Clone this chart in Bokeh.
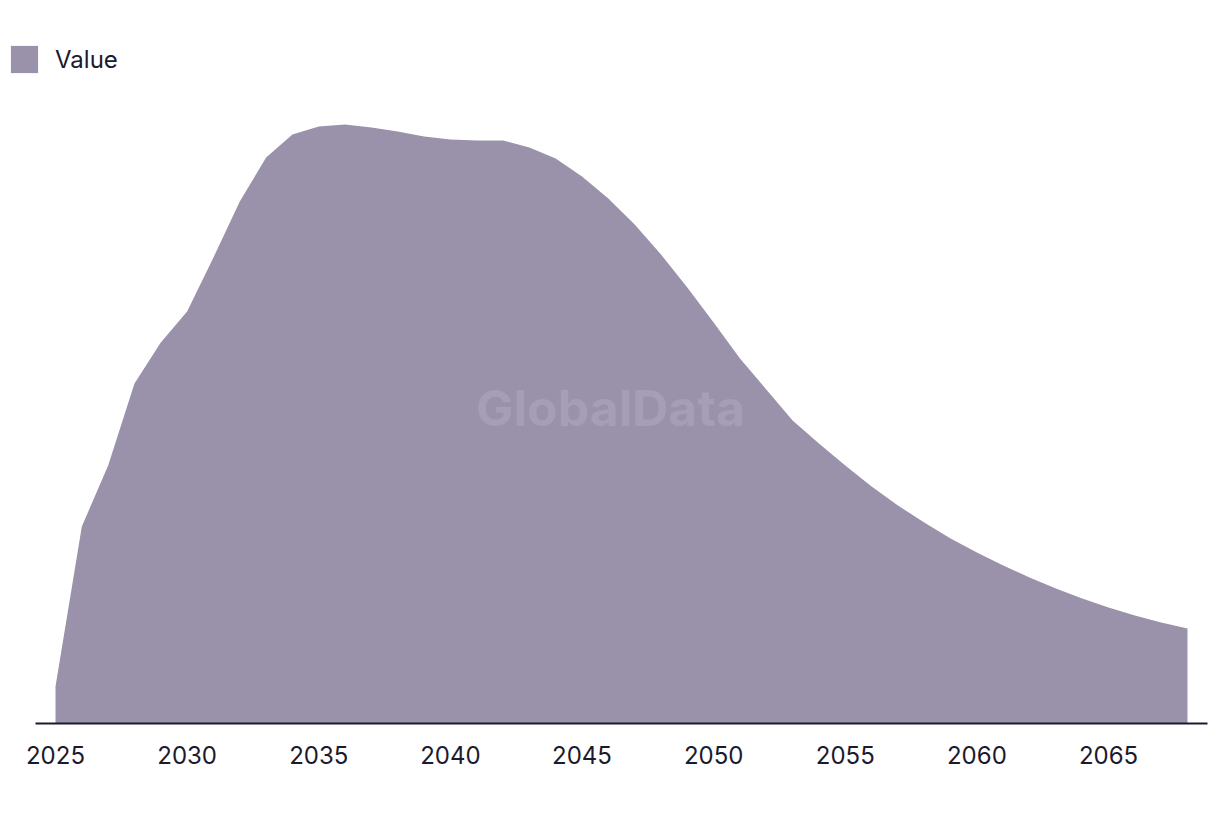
from bokeh.plotting import figure
from bokeh.models import Legend, LegendItem, FixedTicker, Label, Range1d
from bokeh.embed import file_html
from bokeh.resources import INLINE

years = list(range(2025, 2069))
values = [3.7, 19.7, 25.8, 34.0, 38.1, 41.2, 46.6, 52.2, 56.6, 58.9,
          59.7, 59.9, 59.6, 59.2, 58.7, 58.4, 58.3, 58.3, 57.6, 56.5,
          54.7, 52.5, 49.9, 46.9, 43.6, 40.1, 36.5, 33.4, 30.3, 28.0,
          25.8, 23.7, 21.8, 20.1, 18.5, 17.1, 15.8, 14.6, 13.5, 12.5,
          11.6, 10.8, 10.1, 9.5]
tick_years = [2025, 2030, 2035, 2040, 2045, 2050, 2055, 2060, 2065]
series_name = "Value"
watermark = "GlobalData"

FILL = "#9a91aa"
INK = "#1b1a2e"

ppy = 1132 / 43.0
x0 = 2025 - 50 / ppy
x1 = 2068 + 20 / ppy
p = figure(frame_width=1202, frame_height=678, output_backend="svg",
           toolbar_location=None,
           x_range=Range1d(x0, x1),
           y_range=Range1d(0, 67.8))
p.min_border_left = 5
p.min_border_right = 13
p.min_border_top = 45
p.min_border_bottom = 91
p.outline_line_color = None
p.background_fill_color = "white"
p.border_fill_color = "white"
p.xgrid.visible = False
p.ygrid.visible = False
p.yaxis.visible = False

r = p.varea(x=years, y1=0, y2=values, fill_color=FILL, fill_alpha=1.0)

wm = Label(x=2046.08, y=31.6, text=watermark, text_font="Inter",
           text_font_style="bold", text_font_size="50px",
           text_color="#a69eb6", text_align="center", text_baseline="middle")
p.add_layout(wm)

ax = p.xaxis[0]
ax.bounds = (2025 - 20 / ppy, x1)
ax.ticker = FixedTicker(ticks=tick_years)
ax.axis_line_color = INK
ax.axis_line_width = 2
ax.major_tick_line_color = None
ax.minor_tick_line_color = None
ax.major_label_text_font = "Inter"
ax.major_label_text_font_size = "24px"
ax.major_label_text_color = INK
ax.major_label_standoff = 16

legend = Legend(items=[LegendItem(label=series_name, renderers=[r])],
                location=(2, 647), padding=0, margin=0, spacing=0,
                glyph_width=34, glyph_height=34, label_standoff=14,
                label_text_font="Inter", label_text_font_size="24px",
                label_text_color=INK, label_height=34,
                border_line_alpha=0, background_fill_alpha=0)
p.add_layout(legend)

open("out.html", "w").write(file_html(p, INLINE))
